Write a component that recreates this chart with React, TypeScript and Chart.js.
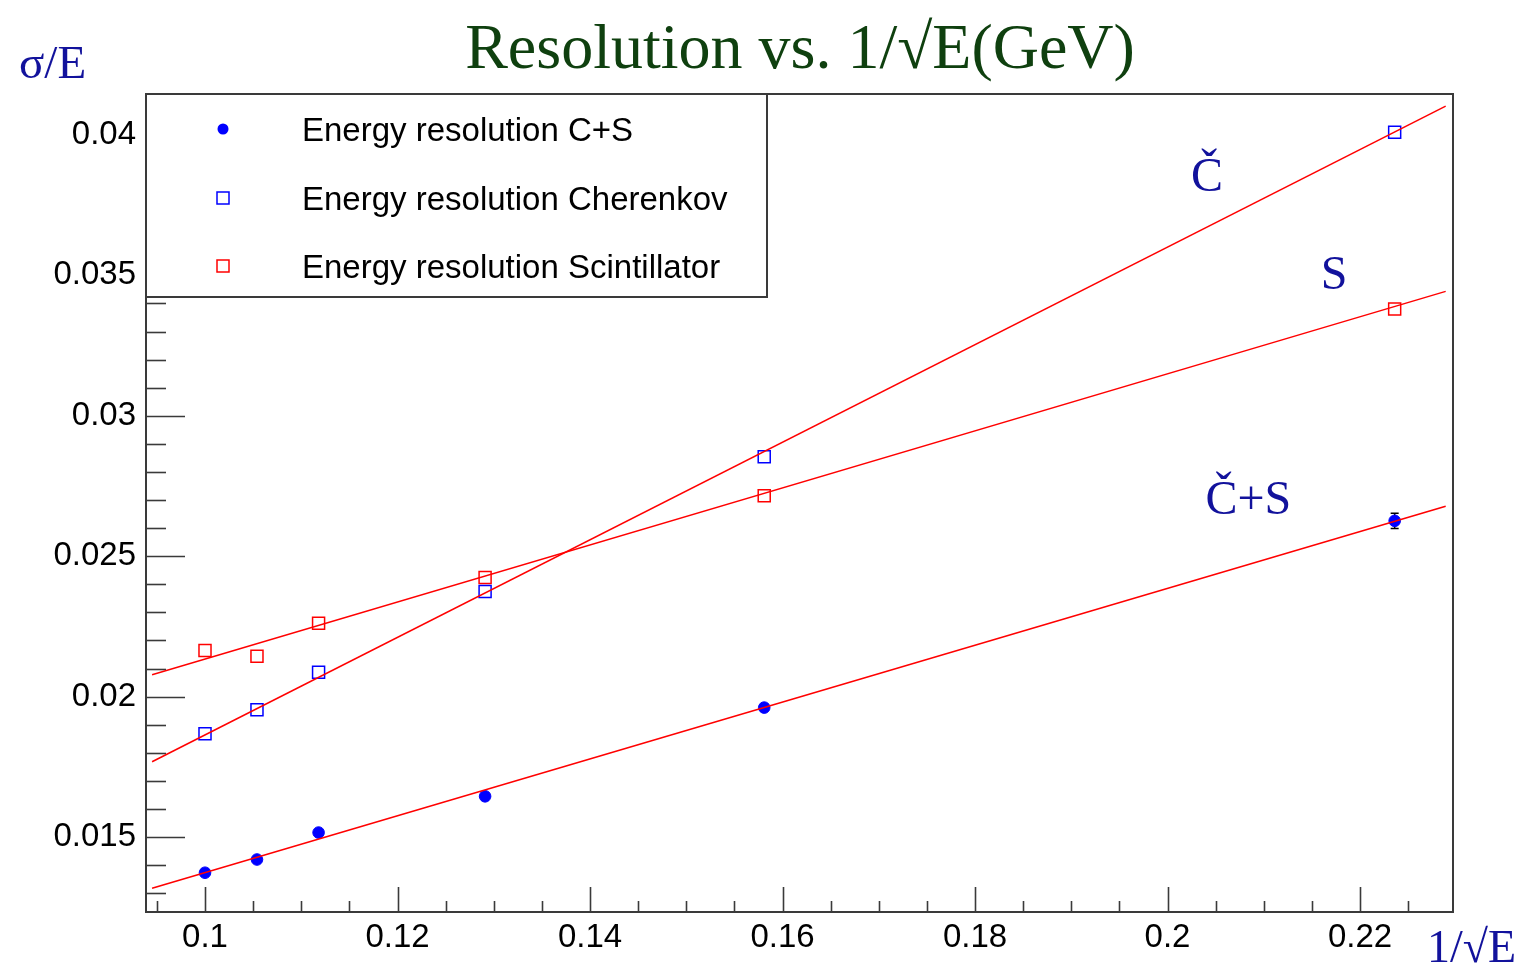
import React, { useEffect, useRef } from "react";
import { Chart, registerables } from "chart.js";

Chart.register(...registerables);

// ---- data ----
const X_VALUES = [0.1, 0.1054, 0.1118, 0.1291, 0.1581, 0.2236];
const CS_VALUES = [0.01373, 0.0142, 0.01516, 0.01645, 0.01961, 0.02626];
const CS_ERRORS = [0.0001, 0.0001, 0.0001, 0.0001, 0.00012, 0.00027];
const CHER_VALUES = [0.01868, 0.01953, 0.02087, 0.02374, 0.02854, 0.0401];
const SCINT_VALUES = [0.02164, 0.02144, 0.02261, 0.02424, 0.02715, 0.0338];
const FIT_X = [0.0945, 0.2289];
const FIT_CS = [0.01318, 0.02678];
const FIT_CHER = [0.01768, 0.04103];
const FIT_SCINT = [0.02078, 0.03443];
const X_TICKS = [0.1, 0.12, 0.14, 0.16, 0.18, 0.2, 0.22];
const X_TICK_LABELS = ["0.1", "0.12", "0.14", "0.16", "0.18", "0.2", "0.22"];
const Y_TICKS = [0.015, 0.02, 0.025, 0.03, 0.035, 0.04];
const Y_TICK_LABELS = ["0.015", "0.02", "0.025", "0.03", "0.035", "0.04"];
const SERIES_LABELS = [
  "Energy resolution C+S",
  "Energy resolution Cherenkov",
  "Energy resolution Scintillator",
];
const CURVE_LABELS = ["Č", "S", "Č+S"];
const CURVE_LABEL_X = [0.2041, 0.2173, 0.2084];
const CURVE_LABEL_Y = [0.03800, 0.03450, 0.02650];

const X_MIN = 0.09387;
const X_MAX = 0.22966;
const Y_MIN = 0.012331;
const Y_MAX = 0.041459;

const SANS = "'Liberation Sans', Arial, Helvetica, sans-serif";
const SERIF = "'Liberation Serif', 'Times New Roman', serif";
const AXIS_COLOR = "#3a3a3a";
const TEXT_BLUE = "#12129c";

const pts = (xs: number[], ys: number[]) => xs.map((x, i) => ({ x, y: ys[i] }));

const rootPlugin = {
  id: "rootStyle",
  beforeDatasetsDraw(chart: any) {
    const { ctx, chartArea: a, scales } = chart;
    const xs = scales.x;
    const ys = scales.y;
    ctx.save();
    ctx.strokeStyle = AXIS_COLOR;
    ctx.lineWidth = 1.6;
    // y ticks (major + minor)
    for (let k = Math.ceil(Y_MIN / 0.001); k * 0.001 <= Y_MAX; k++) {
      const v = k * 0.001;
      const isMajor = Y_TICKS.some((t) => Math.abs(t - v) < 1e-9);
      const py = Math.round(ys.getPixelForValue(v)) + 0.5;
      ctx.beginPath();
      ctx.moveTo(a.left, py);
      ctx.lineTo(a.left + (isMajor ? 39 : 20), py);
      ctx.stroke();
    }
    // x ticks (major + minor)
    for (let k = Math.ceil(X_MIN / 0.005); k * 0.005 <= X_MAX; k++) {
      const v = k * 0.005;
      const isMajor = X_TICKS.some((t) => Math.abs(t - v) < 1e-9);
      const px = Math.round(xs.getPixelForValue(v)) + 0.5;
      ctx.beginPath();
      ctx.moveTo(px, a.bottom);
      ctx.lineTo(px, a.bottom - (isMajor ? 25 : 11));
      ctx.stroke();
    }
    // error bars for C+S
    ctx.strokeStyle = "#000";
    ctx.lineWidth = 1.5;
    X_VALUES.forEach((xv, i) => {
      const px = xs.getPixelForValue(xv);
      const top = ys.getPixelForValue(CS_VALUES[i] + CS_ERRORS[i]);
      const bot = ys.getPixelForValue(CS_VALUES[i] - CS_ERRORS[i]);
      ctx.beginPath();
      ctx.moveTo(px, top);
      ctx.lineTo(px, bot);
      ctx.moveTo(px - 4, top);
      ctx.lineTo(px + 4, top);
      ctx.moveTo(px - 4, bot);
      ctx.lineTo(px + 4, bot);
      ctx.stroke();
    });
    ctx.restore();
  },
  afterDatasetsDraw(chart: any) {
    const { ctx, chartArea: a, scales } = chart;
    const xs = scales.x;
    const ys = scales.y;
    ctx.save();
    // frame
    ctx.strokeStyle = AXIS_COLOR;
    ctx.lineWidth = 2;
    ctx.strokeRect(a.left, a.top, a.right - a.left, a.bottom - a.top);

    // legend box
    const lx = a.left;
    const ly = a.top;
    const lw = 621;
    const lh = 203;
    ctx.fillStyle = "#fff";
    ctx.fillRect(lx, ly, lw, lh);
    ctx.strokeRect(lx, ly, lw, lh);
    const rowY = [ly + 35, ly + 104, ly + 172];
    ctx.font = `33px ${SANS}`;
    ctx.textBaseline = "middle";
    ctx.textAlign = "left";
    SERIES_LABELS.forEach((lab, i) => {
      const my = rowY[i];
      const mx = lx + 77;
      if (i === 0) {
        ctx.fillStyle = "#0000ff";
        ctx.beginPath();
        ctx.arc(mx, my, 5.5, 0, Math.PI * 2);
        ctx.fill();
      } else {
        ctx.strokeStyle = i === 1 ? "#0000ff" : "#ff0000";
        ctx.lineWidth = 1.5;
        ctx.strokeRect(mx - 6, my - 6, 12, 12);
      }
      ctx.fillStyle = "#000";
      ctx.fillText(lab, lx + 156, my + 3);
    });

    // curve labels
    ctx.fillStyle = TEXT_BLUE;
    ctx.font = `48px ${SERIF}`;
    ctx.textAlign = "center";
    ctx.textBaseline = "alphabetic";
    CURVE_LABELS.forEach((t, i) => {
      ctx.fillText(t, xs.getPixelForValue(CURVE_LABEL_X[i]), ys.getPixelForValue(CURVE_LABEL_Y[i]));
    });

    // axis titles
    ctx.font = `47px ${SERIF}`;
    ctx.textAlign = "left";
    ctx.fillText("σ/E", 19, 78);
    ctx.font = `46px ${SERIF}`;
    ctx.textAlign = "right";
    ctx.fillText("1/√E", 1516, 962);

    // title
    ctx.fillStyle = "#0f400f";
    ctx.font = `64px ${SERIF}`;
    ctx.textAlign = "center";
    ctx.fillText("Resolution vs. 1/√E(GeV)", 800, 68);
    ctx.restore();
  },
};

export default function App() {
  const ref = useRef<HTMLCanvasElement>(null);
  useEffect(() => {
    const prevMargin = document.body.style.margin;
    document.body.style.margin = "0";
    const chart = new Chart(ref.current as HTMLCanvasElement, {
      type: "scatter",
      data: {
        datasets: [
          {
            type: "line",
            label: "fit C+S",
            data: pts(FIT_X, FIT_CS),
            borderColor: "#ff0000",
            borderWidth: 1.5,
            pointRadius: 0,
            showLine: true,
            order: 0,
          },
          {
            type: "line",
            label: "fit Cherenkov",
            data: pts(FIT_X, FIT_CHER),
            borderColor: "#ff0000",
            borderWidth: 1.5,
            pointRadius: 0,
            showLine: true,
            order: 0,
          },
          {
            type: "line",
            label: "fit Scintillator",
            data: pts(FIT_X, FIT_SCINT),
            borderColor: "#ff0000",
            borderWidth: 1.5,
            pointRadius: 0,
            showLine: true,
            order: 0,
          },
          {
            label: SERIES_LABELS[0],
            data: pts(X_VALUES, CS_VALUES),
            pointStyle: "circle",
            pointRadius: 5.8,
            backgroundColor: "#0000ff",
            borderColor: "#0000ff",
            borderWidth: 1,
            order: 1,
          },
          {
            label: SERIES_LABELS[1],
            data: pts(X_VALUES, CHER_VALUES),
            pointStyle: "rect",
            pointRadius: 8.5,
            backgroundColor: "rgba(0,0,0,0)",
            borderColor: "#0000ff",
            borderWidth: 1.5,
            order: 1,
          },
          {
            label: SERIES_LABELS[2],
            data: pts(X_VALUES, SCINT_VALUES),
            pointStyle: "rect",
            pointRadius: 8.5,
            backgroundColor: "rgba(0,0,0,0)",
            borderColor: "#ff0000",
            borderWidth: 1.5,
            order: 1,
          },
        ],
      },
      options: {
        animation: false,
        responsive: false,
        devicePixelRatio: 1,
        events: [],
        layout: { padding: { left: 0, top: 94, right: 67, bottom: 0 } },
        plugins: {
          legend: { display: false },
          tooltip: { enabled: false },
          title: { display: false },
        },
        scales: {
          x: {
            type: "linear",
            min: X_MIN,
            max: X_MAX,
            grid: { display: false, drawTicks: false },
            border: { display: false },
            afterBuildTicks: (s: any) => {
              s.ticks = X_TICKS.map((v) => ({ value: v }));
            },
            afterFit: (s: any) => {
              s.height = 56;
            },
            ticks: {
              autoSkip: false,
              maxRotation: 0,
              padding: 6,
              color: "#000",
              font: { family: SANS, size: 33 },
              callback: (v: any) => {
                const i = X_TICKS.findIndex((t) => Math.abs(t - v) < 1e-9);
                return i >= 0 ? X_TICK_LABELS[i] : "";
              },
            },
          },
          y: {
            type: "linear",
            min: Y_MIN,
            max: Y_MAX,
            grid: { display: false, drawTicks: false },
            border: { display: false },
            afterBuildTicks: (s: any) => {
              s.ticks = Y_TICKS.map((v) => ({ value: v }));
            },
            afterFit: (s: any) => {
              s.width = 146;
            },
            ticks: {
              autoSkip: false,
              padding: 10,
              color: "#000",
              font: { family: SANS, size: 33 },
              callback: (v: any) => {
                const i = Y_TICKS.findIndex((t) => Math.abs(t - v) < 1e-9);
                return i >= 0 ? Y_TICK_LABELS[i] : "";
              },
            },
          },
        },
      },
      plugins: [rootPlugin],
    } as any);
    return () => {
      chart.destroy();
      document.body.style.margin = prevMargin;
    };
  }, []);
  return (
    <div style={{ position: "absolute", left: 0, top: 0, width: 1520, height: 968, background: "#fff" }}>
      <canvas ref={ref} width={1520} height={968} style={{ display: "block" }} />
    </div>
  );
}
